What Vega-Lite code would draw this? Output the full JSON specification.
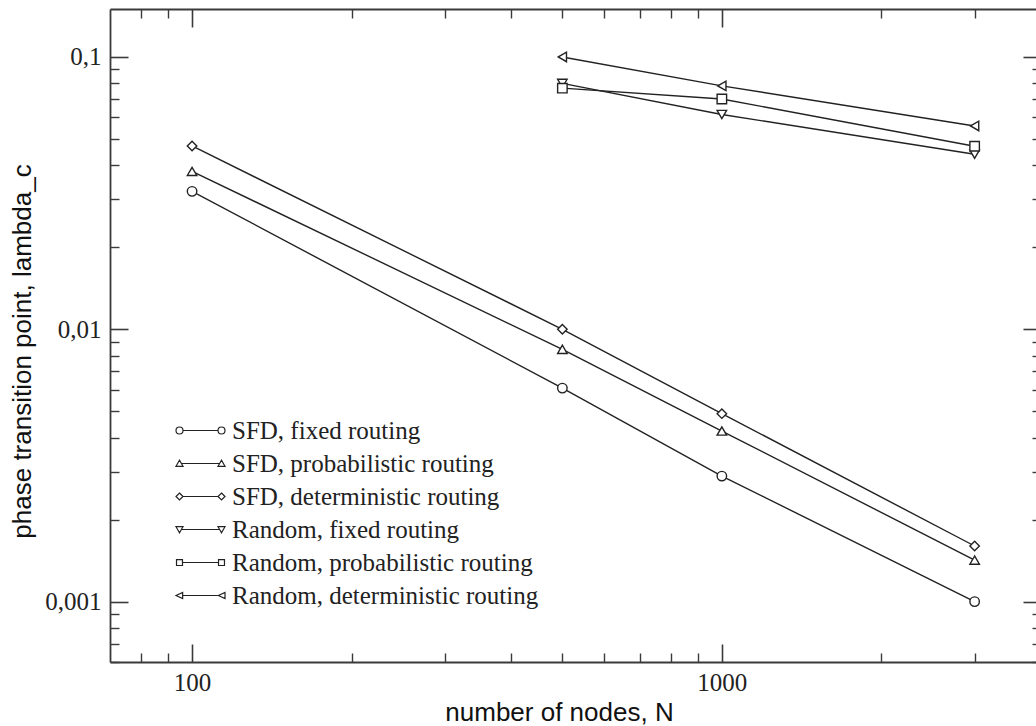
{
  "$schema": "https://vega.github.io/schema/vega-lite/v6.json",
  "width": 926,
  "height": 653,
  "autosize": {"type": "none"},
  "padding": {"left": 110, "top": 9, "right": 0, "bottom": 64},
  "background": "white",
  "config": {"view": {"stroke": null}, "axis": {"grid": false}},
  "data": {
    "values": [
      {"series": "SFD, fixed routing", "N": 100, "lambda": 0.0321},
      {"series": "SFD, fixed routing", "N": 500, "lambda": 0.00608},
      {"series": "SFD, fixed routing", "N": 1000, "lambda": 0.00289},
      {"series": "SFD, fixed routing", "N": 3000, "lambda": 0.001},
      {"series": "SFD, probabilistic routing", "N": 100, "lambda": 0.038},
      {"series": "SFD, probabilistic routing", "N": 500, "lambda": 0.00844},
      {"series": "SFD, probabilistic routing", "N": 1000, "lambda": 0.00423},
      {"series": "SFD, probabilistic routing", "N": 3000, "lambda": 0.00142},
      {"series": "SFD, deterministic routing", "N": 100, "lambda": 0.0471},
      {"series": "SFD, deterministic routing", "N": 500, "lambda": 0.01},
      {"series": "SFD, deterministic routing", "N": 1000, "lambda": 0.0049},
      {"series": "SFD, deterministic routing", "N": 3000, "lambda": 0.0016},
      {"series": "Random, fixed routing", "N": 500, "lambda": 0.080},
      {"series": "Random, fixed routing", "N": 1000, "lambda": 0.0615},
      {"series": "Random, fixed routing", "N": 3000, "lambda": 0.0439},
      {"series": "Random, probabilistic routing", "N": 500, "lambda": 0.0768},
      {"series": "Random, probabilistic routing", "N": 1000, "lambda": 0.0701},
      {"series": "Random, probabilistic routing", "N": 3000, "lambda": 0.047},
      {"series": "Random, deterministic routing", "N": 500, "lambda": 0.1},
      {"series": "Random, deterministic routing", "N": 1000, "lambda": 0.0783},
      {"series": "Random, deterministic routing", "N": 3000, "lambda": 0.0558}
    ]
  },
  "resolve": {
    "scale": {"x": "shared", "y": "shared", "shape": "independent"},
    "axis": {"x": "independent", "y": "independent"},
    "legend": {"shape": "independent"}
  },
  "layer": [
    {
      "mark": {"type": "line", "stroke": "#222", "strokeWidth": 1.4},
      "encoding": {
        "x": {
          "field": "N", "type": "quantitative",
          "scale": {"type": "log", "domain": [70, 3917], "nice": false, "zero": false},
          "axis": {
            "orient": "bottom", "values": [100, 1000], "format": "d",
            "ticks": false, "tickSize": 0, "domain": true, "domainColor": "#3a3a3a", "domainWidth": 1.8,
            "labelFont": "Liberation Serif", "labelFontSize": 25, "labelColor": "#222",
            "labelPadding": 8, "labelFlush": false, "labelOverlap": false,
            "title": "number of nodes, N", "titleFont": "Liberation Sans", "titleFontSize": 26,
            "titleFontWeight": "normal", "titleColor": "#111",
            "titleX": 449, "titleY": 58, "titleBaseline": "alphabetic", "titleAlign": "center"
          }
        },
        "y": {
          "field": "lambda", "type": "quantitative",
          "scale": {"type": "log", "domain": [0.0006, 0.15], "nice": false, "zero": false},
          "axis": {
            "orient": "left", "values": [0.001, 0.01, 0.1],
            "labelExpr": "replace(format(datum.value, '~r'), '.', ',')",
            "ticks": false, "tickSize": 0, "domain": true, "domainColor": "#3a3a3a", "domainWidth": 1.8,
            "labelFont": "Liberation Serif", "labelFontSize": 25, "labelColor": "#222",
            "labelPadding": 9, "labelOverlap": false, "labelFlush": false,
            "title": "phase transition point, lambda_c", "titleFont": "Liberation Sans", "titleFontSize": 26,
            "titleFontWeight": "normal", "titleColor": "#111",
            "titleX": -80, "titleY": 342, "titleBaseline": "alphabetic", "titleAlign": "center", "titleAngle": -90
          }
        },
        "detail": {"field": "series"}
      }
    },
    {
      "mark": {"type": "point", "filled": true, "fill": "white", "stroke": "#222", "strokeWidth": 1.4, "size": 90, "opacity": 1},
      "encoding": {
        "x": {"field": "N", "type": "quantitative",
          "axis": {"orient": "bottom", "values": [100, 1000], "labels": false, "domain": false, "ticks": true, "tickSize": -18, "tickColor": "#3a3a3a", "tickWidth": 1.6, "title": null}},
        "y": {"field": "lambda", "type": "quantitative",
          "axis": {"orient": "left", "values": [0.001, 0.01, 0.1], "labels": false, "domain": false, "ticks": true, "tickSize": -18, "tickColor": "#3a3a3a", "tickWidth": 1.6, "title": null}},
        "shape": {
          "field": "series", "type": "nominal",
          "scale": {
            "domain": ["SFD, fixed routing", "SFD, probabilistic routing", "SFD, deterministic routing", "Random, fixed routing", "Random, probabilistic routing", "Random, deterministic routing"],
            "range": ["circle", "triangle-up", "diamond", "triangle-down", "square", "triangle-left"]
          },
          "legend": null
        }
      }
    },
    {
      "transform": [{"filter": "false"}],
      "mark": {"type": "point", "filled": false, "color": "#222", "stroke": "#222", "strokeWidth": 1.2, "size": 49},
      "encoding": {
        "x": {"field": "N", "type": "quantitative",
          "axis": {"orient": "bottom", "values": [80, 90, 200, 300, 400, 500, 600, 700, 800, 900, 2000, 3000], "labels": false, "domain": false, "ticks": true, "tickSize": -9, "tickColor": "#3a3a3a", "tickWidth": 1.4, "title": null}},
        "y": {"field": "lambda", "type": "quantitative",
          "axis": {"orient": "left", "values": [0.0006, 0.0007, 0.0008, 0.0009, 0.002, 0.003, 0.004, 0.005, 0.006, 0.007, 0.008, 0.009, 0.02, 0.03, 0.04, 0.05, 0.06, 0.07, 0.08, 0.09], "labels": false, "domain": false, "ticks": true, "tickSize": -9, "tickColor": "#3a3a3a", "tickWidth": 1.4, "title": null}},
        "shape": {
          "field": "series", "type": "nominal",
          "scale": {
            "domain": ["SFD, fixed routing", "SFD, probabilistic routing", "SFD, deterministic routing", "Random, fixed routing", "Random, probabilistic routing", "Random, deterministic routing"],
            "range": [
              "M-1,0A1,1,0,1,1,1,0A1,1,0,1,1,-1,0ZM1,0L11,0M11,0A1,1,0,1,1,13,0A1,1,0,1,1,11,0Z",
              "M-1,0.8L1,0.8L0,-0.95ZM0.54,0L11.46,0M11,0.8L13,0.8L12,-0.95Z",
              "M0,-1L1,0L0,1L-1,0ZM1,0L11,0M12,-1L13,0L12,1L11,0Z",
              "M-1,-0.8L1,-0.8L0,0.95ZM0.54,0L11.46,0M11,-0.8L13,-0.8L12,0.95Z",
              "M-0.85,-0.85L0.85,-0.85L0.85,0.85L-0.85,0.85ZM0.85,0L11.15,0M11.15,-0.85L12.85,-0.85L12.85,0.85L11.15,0.85Z",
              "M-1,0L0.9,-0.9L0.9,0.9ZM0.9,0L11.1,0M11.1,0L13,-0.9L13,0.9Z"
            ]
          },
          "legend": {
            "orient": "none", "legendX": 57, "legendY": 409, "title": null, "padding": 0,
            "symbolSize": 49, "symbolOpacity": 1, "symbolFillColor": "white", "symbolStrokeColor": "#222", "symbolStrokeWidth": 1.2,
            "labelFont": "Liberation Serif", "labelFontSize": 25, "labelColor": "#222", "labelOffset": 40, "labelLimit": 600,
            "rowPadding": 7,
            "encode": {"symbols": {"update": {"stroke": {"value": "#222"}, "fill": {"value": "white"}, "opacity": {"value": 1}, "strokeWidth": {"value": 1.2}}}}
          }
        }
      }
    },
    {
      "mark": {"type": "point", "opacity": 0},
      "encoding": {
        "x": {"field": "N", "type": "quantitative",
          "axis": {"orient": "top", "values": [100, 1000], "labels": false, "domain": true, "domainColor": "#3a3a3a", "domainWidth": 1.8, "ticks": true, "tickSize": -18, "tickColor": "#3a3a3a", "tickWidth": 1.6, "title": null}},
        "y": {"field": "lambda", "type": "quantitative",
          "axis": {"orient": "right", "values": [0.001, 0.01, 0.1], "labels": false, "domain": false, "ticks": true, "tickSize": -13, "tickColor": "#3a3a3a", "tickWidth": 1.6, "title": null}}
      }
    },
    {
      "mark": {"type": "point", "opacity": 0},
      "encoding": {
        "x": {"field": "N", "type": "quantitative",
          "axis": {"orient": "top", "values": [80, 90, 200, 300, 400, 500, 600, 700, 800, 900, 2000, 3000], "labels": false, "domain": false, "ticks": true, "tickSize": -9, "tickColor": "#3a3a3a", "tickWidth": 1.4, "title": null}},
        "y": {"field": "lambda", "type": "quantitative",
          "axis": {"orient": "right", "values": [0.0006, 0.0007, 0.0008, 0.0009, 0.002, 0.003, 0.004, 0.005, 0.006, 0.007, 0.008, 0.009, 0.02, 0.03, 0.04, 0.05, 0.06, 0.07, 0.08, 0.09], "labels": false, "domain": false, "ticks": true, "tickSize": -4, "tickColor": "#3a3a3a", "tickWidth": 1.4, "title": null}}
      }
    }
  ]
}
